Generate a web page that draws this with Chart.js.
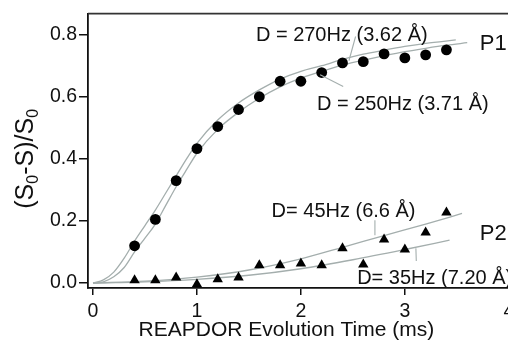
<!DOCTYPE html>
<html>
<head>
<meta charset="utf-8">
<script src="https://cdn.jsdelivr.net/npm/chart.js@4.4.1/dist/chart.umd.min.js"></script>
<style>
html,body{margin:0;padding:0;overflow:hidden;background:#fff}
</style>
</head>
<body>
<canvas id="myChart" width="540" height="341"></canvas>
<script>
// measured points (ms, (S0-S)/S0)
const times=[0.4,0.6,0.8,1.0,1.2,1.4,1.6,1.8,2.0,2.2,2.4,2.6,2.8,3.0,3.2,3.4]
const p1Vals=[0.12,0.205,0.33,0.433,0.504,0.559,0.60,0.65,0.65,0.678,0.709,0.713,0.738,0.725,0.735,0.751]
const p2Vals=[0.009,0.009,0.018,-0.004,0.012,0.018,0.057,0.057,0.063,0.057,0.112,0.06,0.14,0.108,0.163,0.227]

// fitted curves
const fit270X=[0,0.1,0.2,0.3,0.4,0.5,0.6,0.7,0.8,0.9,1.0,1.2,1.4,1.6,1.8,2.0,2.2,2.4,2.6,2.8,3.0,3.2,3.49]
const fit270Y=[0,0.01,0.035,0.08,0.135,0.185,0.235,0.29,0.345,0.40,0.45,0.525,0.58,0.622,0.657,0.682,0.70,0.72,0.737,0.75,0.762,0.772,0.783]
const fit250X=[0,0.1,0.2,0.3,0.4,0.5,0.6,0.7,0.8,0.9,1.0,1.2,1.4,1.6,1.8,2.0,2.2,2.4,2.6,2.8,3.0,3.2,3.4,3.6]
const fit250Y=[0,0.004,0.02,0.05,0.10,0.145,0.19,0.25,0.31,0.365,0.418,0.495,0.55,0.595,0.632,0.66,0.682,0.702,0.718,0.732,0.745,0.756,0.766,0.774]
const fit45X=[0,0.5,1.0,1.5,2.0,2.4,2.8,3.2,3.55]
const fit45Y=[0,0.006,0.019,0.042,0.078,0.115,0.153,0.19,0.224]
const fit35X=[0,0.5,1.0,1.5,2.0,2.5,3.0,3.43]
const fit35Y=[0,0.004,0.012,0.025,0.046,0.075,0.108,0.138]

const xTicks=[0,1,2,3,4]
const yTicks=[0,0.2,0.4,0.6,0.8]

const noteText=['D = 270Hz (3.62 Å)','D = 250Hz (3.71 Å)','D= 45Hz (6.6 Å)','D= 35Hz (7.20 Å)']
const seriesNames=['P1','P2']

// label placement, in data units
const notePos=[[1.567,0.781],[2.154,0.556],[1.718,0.212],[2.541,-0.003]]
const leaders=[[2.526,0.794,2.462,0.716],[2.185,0.671,2.407,0.633],[2.712,0.202,2.712,0.154],[3.106,0.112,3.11,0.071]]
const namePos=[[3.72,0.752],[3.72,0.138]]

const curveColor='#a4aead'
const fam="'Liberation Sans', Arial, sans-serif"
const pts=(xs,ys)=>xs.map((x,i)=>({x:x,y:ys[i]}))

function curve(xs,ys){
  return {data:pts(xs,ys),showLine:true,pointRadius:0,borderColor:curveColor,borderWidth:1.3,
    cubicInterpolationMode:'monotone',fill:false}
}

const extras={
  id:'extras',
  afterDraw(chart){
    const ctx=chart.ctx, a=chart.chartArea
    const xs=chart.scales.x, ys=chart.scales.y
    ctx.save()
    // top frame line
    ctx.strokeStyle='#333'
    ctx.lineWidth=1.8
    ctx.beginPath();ctx.moveTo(a.left,a.top);ctx.lineTo(a.right,a.top);ctx.stroke()
    // leader lines
    ctx.strokeStyle=curveColor
    ctx.lineWidth=1.1
    leaders.forEach(l=>{
      ctx.beginPath()
      ctx.moveTo(xs.getPixelForValue(l[0]),ys.getPixelForValue(l[1]))
      ctx.lineTo(xs.getPixelForValue(l[2]),ys.getPixelForValue(l[3]))
      ctx.stroke()
    })
    ctx.fillStyle='#111'
    ctx.textBaseline='alphabetic'
    ctx.textAlign='left'
    ctx.font='20px '+fam
    noteText.forEach((t,i)=>{
      ctx.fillText(t,xs.getPixelForValue(notePos[i][0]),ys.getPixelForValue(notePos[i][1]))
    })
    ctx.font='22px '+fam
    seriesNames.forEach((t,i)=>{
      ctx.fillText(t,xs.getPixelForValue(namePos[i][0]),ys.getPixelForValue(namePos[i][1]))
    })
    // x title
    ctx.textAlign='center'
    ctx.font='21px '+fam
    ctx.fillText('REAPDOR Evolution Time (ms)',xs.getPixelForValue(1.86),336)
    // y title with subscripts
    const parts=[['(S',0],['0',1],['-S)/S',0],['0',1]]
    const big='25px '+fam, small='16px '+fam
    let total=0
    parts.forEach(p=>{ctx.font=p[1]?small:big;total+=ctx.measureText(p[0]).width})
    ctx.translate(33,ys.getPixelForValue(0.4))
    ctx.rotate(-Math.PI/2)
    ctx.textAlign='left'
    let px=-total/2
    parts.forEach(p=>{
      ctx.font=p[1]?small:big
      ctx.fillText(p[0],px,p[1]?5:0)
      px+=ctx.measureText(p[0]).width
    })
    ctx.restore()
  }
}

Chart.defaults.font.family=fam
const ctx=document.getElementById('myChart').getContext('2d')
const chart=new Chart(ctx,{
  type:'scatter',
  data:{
    datasets:[
      {data:pts(times,p1Vals),pointStyle:'circle',pointRadius:5.4,backgroundColor:'#000',borderColor:'#000',borderWidth:0},
      {data:pts(times,p2Vals),pointStyle:'triangle',pointRadius:6,backgroundColor:'#000',borderColor:'#000',borderWidth:0},
      curve(fit270X,fit270Y),
      curve(fit250X,fit250Y),
      curve(fit45X,fit45Y),
      curve(fit35X,fit35Y)
    ]
  },
  options:{
    responsive:false,
    animation:false,
    layout:{autoPadding:false,padding:{top:13,left:0,right:0,bottom:0}},
    plugins:{legend:{display:false},tooltip:{enabled:false}},
    scales:{
      x:{
        type:'linear',min:-0.048,max:4.3,
        afterBuildTicks:s=>{s.ticks=xTicks.map(v=>({value:v}))},
        afterFit:s=>{s.height=53;s.paddingLeft=0;s.paddingRight=0},
        grid:{drawOnChartArea:false,tickLength:7,color:'#111',lineWidth:1.5},
        border:{color:'#111',width:1.8},
        ticks:{color:'#111',font:{size:19.5},padding:5,maxRotation:0,callback:v=>String(v)}
      },
      y:{
        type:'linear',min:-0.016,max:0.8675,
        afterBuildTicks:s=>{s.ticks=yTicks.map(v=>({value:v}))},
        afterFit:s=>{s.width=88},
        grid:{drawOnChartArea:false,tickLength:9,color:'#111',lineWidth:1.5},
        border:{color:'#111',width:1.8},
        ticks:{color:'#111',font:{size:19.5},padding:2,callback:v=>v.toFixed(1)}
      }
    }
  },
  plugins:[extras]
})
</script>
</body>
</html>
